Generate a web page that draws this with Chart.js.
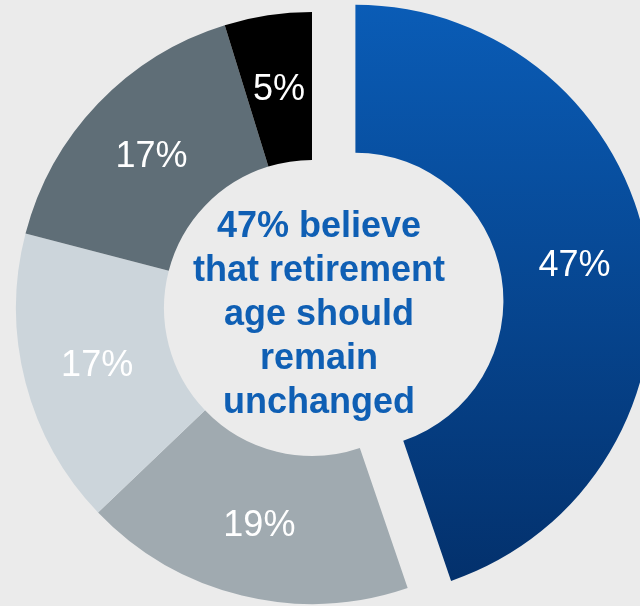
<!DOCTYPE html>
<html lang="en">
<head>
    <meta charset="UTF-8">
    <title>Retirement age</title>
    <script src="https://cdn.jsdelivr.net/npm/chart.js@4.4.1/dist/chart.umd.min.js"></script>
    <style>
        body { margin: 0; background: #ebebeb; }
        .chart-container { position: relative; width: 640px; height: 606px; }
    </style>
</head>
<body>

    <!--chart canvas start-->
    <div class="chart-container">
        <canvas id="chart"></canvas>
    </div>
    <!--chart canvas end-->

    <script>

    // data
    const categories = ['Remain unchanged', 'Response 2', 'Response 3', 'Response 4', 'Response 5'];
    const values = [47, 19, 17, 17, 5];
    const valueLabels = ['47%', '19%', '17%', '17%', '5%'];
    const centerLines = ['47% believe', 'that retirement', 'age should', 'remain', 'unchanged'];

    const sliceColors = [null, '#a0aab0', '#ccd5db', '#5f6e77', '#000000'];
    const explode = [44, 0, 0, 0, 0];   // pixels the slice is pulled out

    // chart.js v4 offset also grows the radius, so pull the slice out by hand
    const explodePlugin = {
        id: 'explodePlugin',
        afterDatasetUpdate(chart, args) {
            const meta = chart.getDatasetMeta(args.index);
            meta.data.forEach((arc, i) => {
                if (!explode[i]) return;
                const mid = (arc.startAngle + arc.endAngle) / 2;
                arc.x += Math.cos(mid) * explode[i];
                arc.y += Math.sin(mid) * explode[i];
            });
        }
    };

    // labels on the slices + text in the hole
    const labelPlugin = {
        id: 'labelPlugin',
        afterDatasetsDraw(chart) {
            const ctx = chart.ctx;
            const meta = chart.getDatasetMeta(0);
            ctx.save();
            ctx.fillStyle = '#ffffff';
            ctx.font = '36px "Liberation Sans", Arial, sans-serif';
            ctx.textAlign = 'center';
            ctx.textBaseline = 'middle';
            meta.data.forEach((arc, i) => {
                const mid = (arc.startAngle + arc.endAngle) / 2;
                const r = (arc.innerRadius + arc.outerRadius) / 2;
                ctx.fillText(valueLabels[i], arc.x + Math.cos(mid) * r, arc.y + Math.sin(mid) * r + 2);
            });

            const cx = meta.data[1].x;
            const cy = meta.data[1].y;
            ctx.fillStyle = '#0f5fb4';
            ctx.font = 'bold 36px "Liberation Sans", Arial, sans-serif';
            ctx.textBaseline = 'alphabetic';
            centerLines.forEach((line, i) => {
                ctx.fillText(line, cx + 7, cy - 71 + i * 44);
            });
            ctx.restore();
        }
    };

    const ctx = document.getElementById('chart').getContext('2d');

    const myChart = new Chart(ctx, {
        type: 'doughnut',
        data: {
            labels: categories,
            datasets: [{
                data: values,
                backgroundColor: function(context) {
                    if (context.dataIndex !== 0) return sliceColors[context.dataIndex];
                    const g = context.chart.ctx.createLinearGradient(0, 5, 0, 590);
                    g.addColorStop(0, '#0a5cb6');
                    g.addColorStop(1, '#03306b');
                    return g;
                },
                borderWidth: 0,
                hoverOffset: 0
            }]
        },
        options: {
            responsive: true,
            maintainAspectRatio: false,
            animation: false,
            cutout: '50%',
            radius: 296,
            layout: {
                padding: { left: 0, right: 16, top: 10, bottom: 0 }
            },
            plugins: {
                legend: { display: false },
                tooltip: { enabled: false }
            },
            events: []
        },
        plugins: [explodePlugin, labelPlugin]
    });

    </script>

</body>
</html>
